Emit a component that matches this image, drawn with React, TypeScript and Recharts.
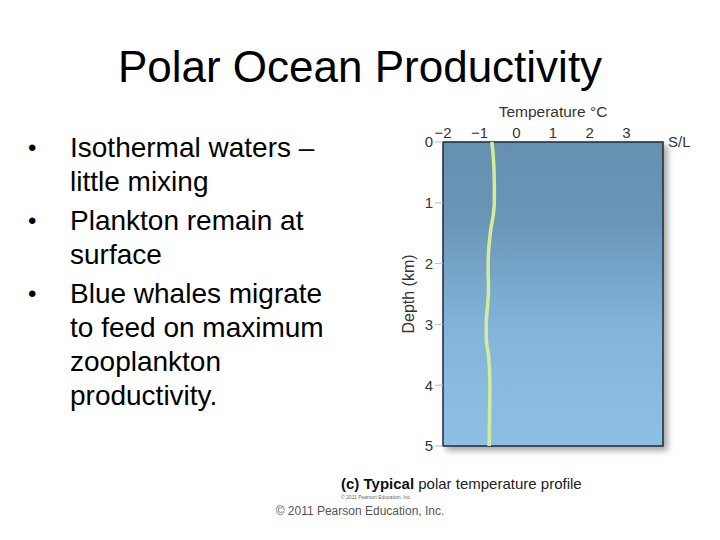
import { LineChart, Line, XAxis, YAxis, ReferenceArea, ReferenceLine } from 'recharts'

const depths = [0, 0.15, 0.7, 1.0, 1.2, 1.45, 1.75, 2.0, 2.45, 2.65, 3.0, 3.25, 3.5, 4.0, 4.5, 5.0]
const temps = [-0.67, -0.64, -0.6, -0.6, -0.63, -0.7, -0.75, -0.77, -0.76, -0.78, -0.82, -0.82, -0.76, -0.72, -0.73, -0.74]
const tempTicks = [-2, -1, 0, 1, 2, 3]
const depthTicks = [0, 1, 2, 3, 4, 5]
const bullets = [
  ['Isothermal waters –', 'little mixing'],
  ['Plankton remain at', 'surface'],
  ['Blue whales migrate', 'to feed on maximum', 'zooplankton', 'productivity.'],
]

const data = depths.map((d, i) => ({ depth: d, temp: temps[i] }))
const font = 'Arial, "Liberation Sans", sans-serif'

export default function App() {
  return (
    <div style={{ position: 'absolute', left: 0, top: 0, width: 720, height: 540, background: '#fff', fontFamily: font }}>
      <div style={{ position: 'absolute', left: 0, width: 720, top: 42, textAlign: 'center', fontSize: 44, color: '#000' }}>
        Polar Ocean Productivity
      </div>
      <div style={{ position: 'absolute', left: 28, top: 131, fontSize: 28, color: '#000', lineHeight: '34px' }}>
        {bullets.map((b, i) => (
          <div key={i} style={{ position: 'relative', paddingLeft: 42, marginBottom: 5 }}>
            <span style={{ position: 'absolute', left: 0, fontSize: 24 }}>•</span>
            {b.map((l, j) => <div key={j}>{l}</div>)}
          </div>
        ))}
      </div>

      <div style={{ position: 'absolute', left: 0, top: 0 }}>
        <LineChart
          width={720}
          height={540}
          layout="vertical"
          data={data}
          margin={{ top: 95, right: 57, bottom: 94, left: 383 }}
        >
          <defs>
            <linearGradient id="sea" x1="0" y1="0" x2="0" y2="1">
              <stop offset="0%" stopColor="#6590b0" />
              <stop offset="25%" stopColor="#6995b7" />
              <stop offset="60%" stopColor="#83b3d9" />
              <stop offset="100%" stopColor="#8ec0e6" />
            </linearGradient>
            <filter id="shadow" x="-10%" y="-10%" width="130%" height="130%">
              <feDropShadow dx="4" dy="4" stdDeviation="3" floodColor="#000" floodOpacity="0.35" />
            </filter>
          </defs>
          <XAxis
            type="number"
            dataKey="temp"
            orientation="top"
            domain={[-2, 4]}
            ticks={tempTicks}
            axisLine={false}
            tickLine={false}
            height={47}
            tickSize={2}
            tickMargin={2}
            tick={{ fontSize: 15, fill: '#333', fontFamily: font }}
            tickFormatter={(v: number) => (v < 0 ? `−${-v}` : `${v}`)}
            label={{ value: 'Temperature °C', position: 'insideTop', offset: 11, fontSize: 15.5, fill: '#333' }}
          />
          <YAxis
            type="number"
            dataKey="depth"
            domain={[0, 5]}
            ticks={depthTicks}
            axisLine={false}
            tickLine={{ stroke: '#bbb' }}
            tickSize={8}
            width={60}
            tick={{ fontSize: 15, fill: '#333', fontFamily: font }}
            label={{ value: 'Depth (km)', angle: -90, position: 'center', dx: -5, fontSize: 16, fill: '#333' }}
          />
          <ReferenceArea x1={-2} x2={4} y1={0} y2={5} fill="url(#sea)" fillOpacity={1} stroke="#1c2a3c" strokeWidth={1.5} filter="url(#shadow)" />
          <ReferenceLine y={0} stroke="none" label={{ value: 'S/L', position: 'right', fontSize: 15, fill: '#333' }} />
          <Line
            dataKey="temp"
            type="monotone"
            stroke="#d6eb98"
            strokeWidth={3.5}
            dot={false}
            isAnimationActive={false}
          />
        </LineChart>
      </div>

      <div style={{ position: 'absolute', left: 341, top: 475, fontSize: 15, color: '#222' }}>
        <span style={{ fontWeight: 600, color: '#111' }}>(c) Typical</span> polar temperature profile
      </div>
      <div style={{ position: 'absolute', left: 341, top: 494, fontSize: 5, color: '#666' }}>
        © 2011 Pearson Education, Inc.
      </div>
      <div style={{ position: 'absolute', left: 0, width: 720, top: 504, textAlign: 'center', fontSize: 12, color: '#555' }}>
        © 2011 Pearson Education, Inc.
      </div>
    </div>
  )
}
